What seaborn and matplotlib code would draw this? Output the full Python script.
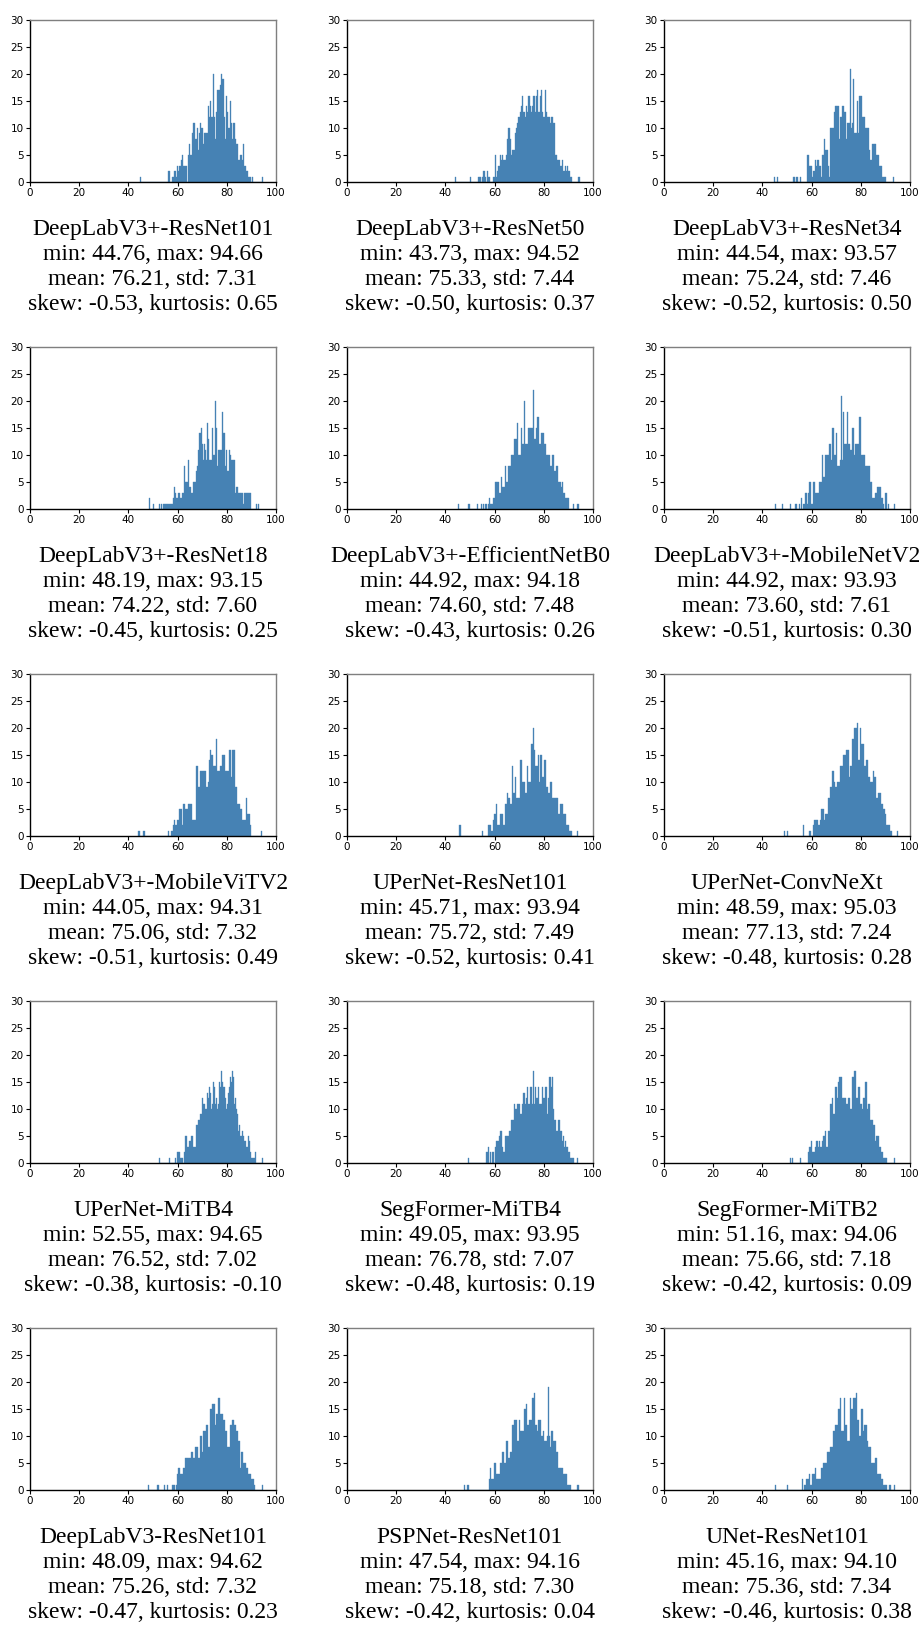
import numpy as np
import pandas as pd
import matplotlib
matplotlib.use("Agg")
import matplotlib.pyplot as plt
import seaborn as sns

names = [
    "DeepLabV3+-ResNet101", "DeepLabV3+-ResNet50", "DeepLabV3+-ResNet34",
    "DeepLabV3+-ResNet18", "DeepLabV3+-EfficientNetB0", "DeepLabV3+-MobileNetV2",
    "DeepLabV3+-MobileViTV2", "UPerNet-ResNet101", "UPerNet-ConvNeXt",
    "UPerNet-MiTB4", "SegFormer-MiTB4", "SegFormer-MiTB2",
    "DeepLabV3-ResNet101", "PSPNet-ResNet101", "UNet-ResNet101",
]
mins = [44.76, 43.73, 44.54, 48.19, 44.92, 44.92, 44.05, 45.71, 48.59,
        52.55, 49.05, 51.16, 48.09, 47.54, 45.16]
maxs = [94.66, 94.52, 93.57, 93.15, 94.18, 93.93, 94.31, 93.94, 95.03,
        94.65, 93.95, 94.06, 94.62, 94.16, 94.10]
means = [76.21, 75.33, 75.24, 74.22, 74.60, 73.60, 75.06, 75.72, 77.13,
         76.52, 76.78, 75.66, 75.26, 75.18, 75.36]
stds = [7.31, 7.44, 7.46, 7.60, 7.48, 7.61, 7.32, 7.49, 7.24,
        7.02, 7.07, 7.18, 7.32, 7.30, 7.34]
skews = [-0.53, -0.50, -0.52, -0.45, -0.43, -0.51, -0.51, -0.52, -0.48,
         -0.38, -0.48, -0.42, -0.47, -0.42, -0.46]
kurts = [0.65, 0.37, 0.50, 0.25, 0.26, 0.30, 0.49, 0.41, 0.28,
         -0.10, 0.19, 0.09, 0.23, 0.04, 0.38]

# bin counts (100 equal bins between min and max)
counts_01 = [1,0,0,0,0,0,0,0,0,0, 0,0,0,0,0,0,0,0,0,0, 0,0,0,2,0,0,1,1,2,1,
             3,2,3,4,5,3,3,3,0,5, 7,5,9,11,11,8,10,6,9,11, 10,7,9,9,9,14,12,15,12,20,
             12,8,13,17,17,18,20,19,12,8, 16,13,10,15,11,8,11,8,7,7, 4,5,5,4,7,3,2,2,1,1,
             0,1,0,0,0,0,0,0,0,1]
counts_02 = [1,0,0,0,0,0,0,0,0,0, 0,0,1,0,0,0,0,0,0,1, 1,0,1,2,1,0,2,1,0,0,
             0,1,5,1,2,3,5,4,5,4, 4,5,8,10,8,5,6,6,9,10, 11,12,13,14,16,13,12,14,13,16,
             14,13,14,16,13,16,17,13,16,17, 13,12,17,13,12,12,11,12,12,11, 5,5,4,4,3,3,4,2,3,2,
             3,2,1,1,0,0,0,0,0,1]
counts_03 = [1,0,0,1,0,0,0,0,0,0, 0,0,0,0,0,0,1,1,0,1, 0,0,1,0,0,0,0,0,5,3,
             3,3,1,2,4,3,4,4,3,1, 5,5,8,6,6,3,1,10,10,10, 13,14,14,14,8,12,12,14,13,13,
             8,11,11,21,10,11,19,9,9,15, 9,16,16,12,12,12,10,10,10,6, 4,4,7,7,7,5,5,3,3,3,
             1,1,1,0,0,0,0,0,0,1]
counts_04 = [2,0,0,0,1,0,0,0,0,1, 0,1,0,1,1,1,1,1,1,1, 1,1,2,4,3,2,2,3,2,2,
             3,3,8,5,5,5,9,4,3,3, 5,5,5,7,8,11,14,15,12,9, 12,11,9,16,13,9,9,15,10,10,
             20,15,8,11,11,11,18,14,14,8, 11,7,7,11,10,9,9,9,3,4, 4,3,3,3,3,1,3,3,3,3,
             3,3,3,0,0,0,0,1,0,1]
counts_05 = [1,0,0,0,0,0,0,0,0,1, 0,0,0,0,0,0,1,0,0,1, 0,1,0,1,0,1,2,1,1,2,
             2,5,5,5,3,3,6,4,4,8, 5,5,8,8,10,10,10,13,13,16, 10,10,15,12,12,20,12,12,15,15,
             15,15,22,13,13,15,17,12,12,14, 14,12,12,10,10,10,8,8,10,10, 7,8,8,5,5,4,5,3,3,2,
             2,2,0,0,0,1,0,0,0,1]
counts_06 = [1,0,0,0,0,0,1,0,0,0, 0,0,0,1,0,0,0,1,1,0, 1,0,2,0,1,3,3,1,3,5,
             1,1,5,5,3,3,3,5,5,10, 6,6,10,10,10,12,12,9,15,10, 10,14,8,8,9,21,9,18,12,12,
             18,12,12,11,15,15,10,12,12,12, 17,17,10,10,10,8,8,8,8,5, 5,2,2,3,3,4,4,4,2,2,
             1,0,3,0,1,0,0,0,0,1]
counts_07 = [1,0,0,0,1,0,0,0,0,0, 0,0,0,0,0,0,0,0,0,0, 0,0,0,0,1,0,1,1,2,3,
             2,3,3,5,5,2,6,6,5,5, 6,6,6,3,3,3,3,13,9,9, 12,12,12,12,12,9,10,14,16,15,
             13,13,13,18,12,12,13,13,15,15, 12,12,12,16,16,11,16,16,9,9, 6,6,5,5,3,3,3,7,4,4,
             2,0,0,0,0,0,0,0,0,1]
counts_08 = [2,0,0,0,0,0,0,0,0,0, 0,0,0,0,0,0,0,0,0,1, 0,0,0,0,2,2,2,1,3,4,
             4,6,2,2,4,4,4,2,6,6, 8,7,7,6,13,8,8,11,7,7, 7,14,14,10,10,8,8,13,10,10,
             17,17,20,16,13,13,15,10,15,15, 11,14,14,9,9,8,10,10,7,7, 7,7,7,4,4,6,6,4,4,4,
             2,2,1,1,1,0,0,0,0,1]
counts_09 = [1,0,0,1,0,0,0,0,0,0, 0,0,0,0,0,0,0,2,0,0, 0,0,1,1,0,0,2,3,3,3,
             2,2,3,5,5,3,4,4,4,7, 7,9,12,12,10,9,9,10,10,13, 13,13,15,15,15,16,16,11,13,13,
             18,18,20,20,21,14,14,20,17,17, 13,13,14,14,11,11,10,10,12,11, 11,7,7,8,8,6,6,5,5,4,
             2,2,2,1,1,0,0,0,0,1]
counts_10 = [1,0,0,0,0,0,0,0,0,1, 0,0,0,0,0,1,0,2,2,2, 1,1,1,0,2,5,5,3,3,4,
             4,5,5,3,3,7,7,8,8,9, 9,12,11,11,10,10,13,12,14,13, 10,11,15,14,11,12,10,11,15,14,
             17,15,14,12,10,11,13,14,16,15, 17,16,11,12,10,9,6,7,5,5, 6,5,4,4,3,3,5,4,2,1,
             1,1,2,0,0,0,0,0,0,1]
counts_11 = [1,0,0,0,0,0,0,0,0,0, 0,0,0,0,0,0,0,2,3,0, 2,0,2,2,0,3,4,4,5,6,
             6,3,2,2,5,5,5,6,6,8, 8,8,11,10,10,11,11,9,9,11, 13,13,11,12,14,11,14,14,11,17,
             11,14,12,12,14,11,11,14,12,12, 14,14,9,12,16,14,16,10,8,8, 6,6,8,8,6,4,5,3,4,3,
             3,2,2,1,1,1,0,0,0,1]
counts_12 = [1,0,1,0,0,0,0,0,0,0, 1,0,0,0,0,0,0,2,3,3, 4,2,2,2,3,4,4,3,4,3,
             4,5,5,6,3,3,6,6,11,11, 12,9,9,14,14,12,15,16,16,12, 12,12,12,11,11,12,12,10,10,16,
             16,17,17,12,12,14,11,11,10,12, 12,15,15,10,11,11,8,8,8,7, 7,4,5,5,3,3,2,2,1,1,
             1,1,0,0,0,0,0,0,0,1]
counts_13 = [1,0,0,0,0,0,0,0,1,0, 0,0,0,0,1,0,1,0,0,0, 0,1,1,0,1,3,4,4,3,3,
             4,4,6,6,6,6,6,7,7,6, 6,8,8,6,6,10,10,7,11,11, 12,12,8,8,15,15,16,16,12,14,
             14,17,17,14,14,13,13,11,11,8, 8,12,12,13,13,12,12,11,9,9, 4,7,7,5,5,4,4,3,3,3,
             2,2,1,0,0,0,0,0,0,1]
counts_14 = [1,0,0,1,0,0,0,0,0,0, 0,0,0,0,0,0,0,0,0,0, 0,0,2,4,2,2,5,5,3,3,
             3,5,5,7,7,5,5,9,6,6, 7,7,12,12,13,13,9,9,13,11, 11,11,15,15,16,12,12,13,13,17,
             17,18,12,12,11,13,13,10,10,11, 9,9,10,19,10,8,11,11,9,9, 7,7,4,4,4,4,3,3,3,3,
             1,1,1,0,0,0,0,0,0,1]
counts_15 = [1,0,0,0,0,0,0,0,0,0, 1,0,0,0,0,0,0,0,0,0, 0,0,2,0,1,1,2,2,3,1,
             1,3,3,4,2,2,2,2,4,4, 5,5,5,7,7,7,8,8,11,11, 12,12,15,15,17,11,11,17,12,12,
             9,9,17,15,15,17,17,18,13,13, 10,15,15,11,12,12,9,8,8,8, 5,5,5,6,6,3,3,3,2,2,
             1,1,1,0,0,1,0,0,0,1]
all_counts = [counts_01, counts_02, counts_03, counts_04, counts_05, counts_06,
              counts_07, counts_08, counts_09, counts_10, counts_11, counts_12,
              counts_13, counts_14, counts_15]

x_ticks = [0, 20, 40, 60, 80, 100]
y_ticks = [0, 5, 10, 15, 20, 25, 30]

W, H = 920, 1627
fig = plt.figure(figsize=(W / 100, H / 100), dpi=100)

col_left = [30, 347, 664]
row_top = [20, 347, 674, 1001, 1328]
aw, ah = 246, 162
bar_color = "#4682b4"

for k in range(15):
    r, c = divmod(k, 3)
    ax = fig.add_axes([col_left[c] / W, 1 - (row_top[r] + ah) / H, aw / W, ah / H])
    cnt = np.asarray(all_counts[k], dtype=float)
    nb = len(cnt)
    w = (maxs[k] - mins[k]) / nb
    centers = mins[k] + w * (np.arange(nb) + 0.5)
    df = pd.DataFrame({"value": centers, "count": cnt})
    sns.histplot(data=df, x="value", weights="count", bins=nb,
                 binrange=(mins[k], maxs[k]), ax=ax,
                 color=bar_color, alpha=1.0, edgecolor=bar_color, linewidth=0.25)
    ax.set_xlim(0, 100)
    ax.set_ylim(0, 30)
    ax.set_xticks(x_ticks)
    ax.set_yticks(y_ticks)
    ax.tick_params(labelsize=7.5, length=3, width=0.8, pad=1.5)
    ax.set_ylabel("")
    for s in ["left", "bottom"]:
        ax.spines[s].set_color("black")
        ax.spines[s].set_linewidth(1.0)
    for s in ["top", "right"]:
        ax.spines[s].set_color("#7f7f7f")
        ax.spines[s].set_linewidth(1.0)
    label = (f"{names[k]}\n"
             f"min: {mins[k]:.2f}, max: {maxs[k]:.2f}\n"
             f"mean: {means[k]:.2f}, std: {stds[k]:.2f}\n"
             f"skew: {skews[k]:.2f}, kurtosis: {kurts[k]:.2f}")
    ax.set_xlabel(label, fontsize=17, family=["Liberation Serif", "DejaVu Serif"],
                  labelpad=15, linespacing=1.24)

fig.savefig("out.png", dpi=100)
